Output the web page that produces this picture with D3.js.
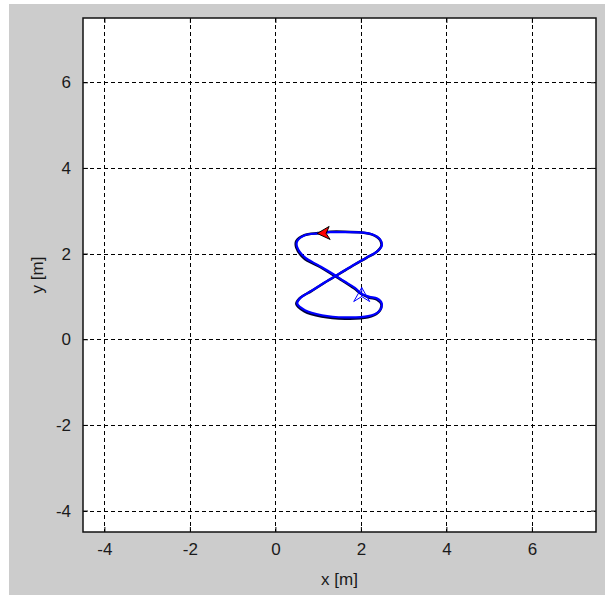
<!DOCTYPE html>
<html>
<head>
<meta charset="utf-8">
<script src="https://cdn.jsdelivr.net/npm/d3@7"></script>
<style>
  body { margin: 0; background: #ffffff; }
  svg { display: block; }
  .tick-label { font-family: Arial, "Liberation Sans", sans-serif; font-size: 17px; fill: #1a1a1a; }
  .axis-label { font-family: Arial, "Liberation Sans", sans-serif; font-size: 17px; fill: #1a1a1a; }
</style>
</head>
<body>
<div id="chart"></div>
<script>
// axis ticks
var xTicks = [-4, -2, 0, 2, 4, 6];
var yTicks = [-4, -2, 0, 2, 4, 6];
var xDomain = [-4.5, 7.5];
var yDomain = [-4.5, 7.5];

var posX = [2.02, 2.20, 2.38, 2.49, 2.42, 2.17, 1.63, 1.09, 0.69, 0.51, 0.58, 0.86,
  1.16, 1.51, 1.86, 2.14, 2.38, 2.49, 2.45, 2.26, 2.03, 1.63, 1.28, 1.00,
  0.69, 0.51, 0.51, 0.69, 1.00, 1.32, 1.60, 1.86];
var posY = [1.06, 0.99, 0.95, 0.83, 0.65, 0.54, 0.51, 0.56, 0.68, 0.84, 0.96, 1.14,
  1.33, 1.54, 1.75, 1.91, 2.05, 2.19, 2.33, 2.45, 2.49, 2.50, 2.50, 2.47,
  2.43, 2.29, 2.15, 1.91, 1.73, 1.54, 1.36, 1.20];

// reference path (black), one lap
var refX = [1.00, 0.68, 0.49, 0.49, 0.67, 1.00, 1.32, 1.58, 1.84, 2.02, 2.20, 2.37,
  2.48, 2.40, 2.16, 1.63, 1.08, 0.68, 0.49, 0.56, 0.85, 1.15, 1.50, 1.85,
  2.13, 2.37, 2.48, 2.44, 2.25, 2.02, 1.63, 1.28];
var refY = [2.48, 2.43, 2.29, 2.14, 1.89, 1.71, 1.52, 1.36, 1.19, 1.05, 0.97, 0.93,
  0.81, 0.62, 0.51, 0.48, 0.53, 0.65, 0.82, 0.95, 1.13, 1.32, 1.53, 1.74,
  1.90, 2.04, 2.19, 2.33, 2.45, 2.49, 2.51, 2.51];

var startPose = { x: 2.02, y: 1.02 };
var endPose = { x: 1.00, y: 2.47 };

var width = 605, height = 595;
var plotLeft = 83, plotRight = 596, plotTop = 18, plotBottom = 532;

var svg = d3.select("#chart")
  .append("svg")
  .attr("width", width)
  .attr("height", height);

svg.append("rect")
  .attr("x", 9).attr("y", 4)
  .attr("width", width - 9).attr("height", height - 4)
  .attr("fill", "#cccccc");

svg.append("rect")
  .attr("x", plotLeft).attr("y", plotTop)
  .attr("width", plotRight - plotLeft).attr("height", plotBottom - plotTop)
  .attr("fill", "#ffffff");

var x = d3.scaleLinear().domain(xDomain).range([plotLeft, plotRight]);
var y = d3.scaleLinear().domain(yDomain).range([plotBottom, plotTop]);

// grid
var grid = svg.append("g");
grid.selectAll("line.vgrid")
  .data(xTicks)
  .enter()
  .append("line")
  .attr("class", "vgrid")
  .attr("x1", function(d) { return Math.round(x(d)) + 0.5; })
  .attr("x2", function(d) { return Math.round(x(d)) + 0.5; })
  .attr("y1", plotTop).attr("y2", plotBottom)
  .attr("stroke", "#000").attr("stroke-width", 1)
  .attr("stroke-dasharray", "4,3");
grid.selectAll("line.hgrid")
  .data(yTicks)
  .enter()
  .append("line")
  .attr("class", "hgrid")
  .attr("y1", function(d) { return Math.round(y(d)) + 0.5; })
  .attr("y2", function(d) { return Math.round(y(d)) + 0.5; })
  .attr("x1", plotLeft).attr("x2", plotRight)
  .attr("stroke", "#000").attr("stroke-width", 1)
  .attr("stroke-dasharray", "4,3");

// axes (ticks inside, like the original); plain hyphen for negatives
var fmt = function(d) { return String(d); };
var xAxisBottom = d3.axisBottom(x).tickValues(xTicks).tickSize(-5).tickPadding(11).tickFormat(fmt);
var xAxisTop = d3.axisTop(x).tickValues(xTicks).tickSize(-5).tickFormat("");
var yAxisLeft = d3.axisLeft(y).tickValues(yTicks).tickSize(-5).tickPadding(12).tickFormat(fmt);
var yAxisRight = d3.axisRight(y).tickValues(yTicks).tickSize(-5).tickFormat("");

var gxb = svg.append("g").attr("transform", "translate(0," + plotBottom + ")").call(xAxisBottom);
var gxt = svg.append("g").attr("transform", "translate(0," + plotTop + ")").call(xAxisTop);
var gyl = svg.append("g").attr("transform", "translate(" + plotLeft + ",0)").call(yAxisLeft);
var gyr = svg.append("g").attr("transform", "translate(" + plotRight + ",0)").call(yAxisRight);

[gxb, gxt, gyl, gyr].forEach(function(g) {
  g.select(".domain").remove();
  g.selectAll(".tick line").attr("stroke", "#000");
  g.selectAll(".tick text")
    .attr("class", "tick-label")
    .attr("fill", null)
    .attr("font-size", null)
    .attr("font-family", null);
});

// trajectories
var line = d3.line()
  .x(function(d) { return x(d[0]); })
  .y(function(d) { return y(d[1]); })
  .curve(d3.curveCatmullRomClosed);

svg.append("path")
  .datum(refX.map(function(v, i) { return [v, refY[i]]; }))
  .attr("d", line)
  .attr("fill", "none")
  .attr("stroke", "#000033")
  .attr("stroke-width", 2.5);

svg.append("path")
  .datum(posX.map(function(v, i) { return [v, posY[i]]; }))
  .attr("d", line)
  .attr("fill", "none")
  .attr("stroke", "#0000ff")
  .attr("stroke-width", 2.2);

// start pose: hollow blue dart pointing up
svg.append("path")
  .attr("transform", "translate(" + x(startPose.x) + "," + y(startPose.y) + ")")
  .attr("d", "M0,-8 L-8,6 L0,1 L8,6 Z M0,-8 L0,1")
  .attr("fill", "none")
  .attr("stroke", "#0000ff")
  .attr("stroke-width", 1);

// end pose: red filled dart pointing left
svg.append("path")
  .attr("transform", "translate(" + x(endPose.x) + "," + y(endPose.y) + ")")
  .attr("d", "M-1,0 L11,-7 L8,0 L12,6 Z")
  .attr("fill", "#ff0000")
  .attr("stroke", "#000")
  .attr("stroke-width", 1);

// frame
svg.append("rect")
  .attr("x", plotLeft).attr("y", plotTop)
  .attr("width", plotRight - plotLeft).attr("height", plotBottom - plotTop)
  .attr("fill", "none")
  .attr("stroke", "#111")
  .attr("stroke-width", 1.5);

// labels
svg.append("text")
  .attr("class", "axis-label")
  .attr("x", (plotLeft + plotRight) / 2)
  .attr("y", 585)
  .attr("text-anchor", "middle")
  .text("x [m]");

svg.append("text")
  .attr("class", "axis-label")
  .attr("transform", "translate(43," + (plotTop + plotBottom) / 2 + ") rotate(-90)")
  .attr("text-anchor", "middle")
  .text("y [m]");
</script>
</body>
</html>
